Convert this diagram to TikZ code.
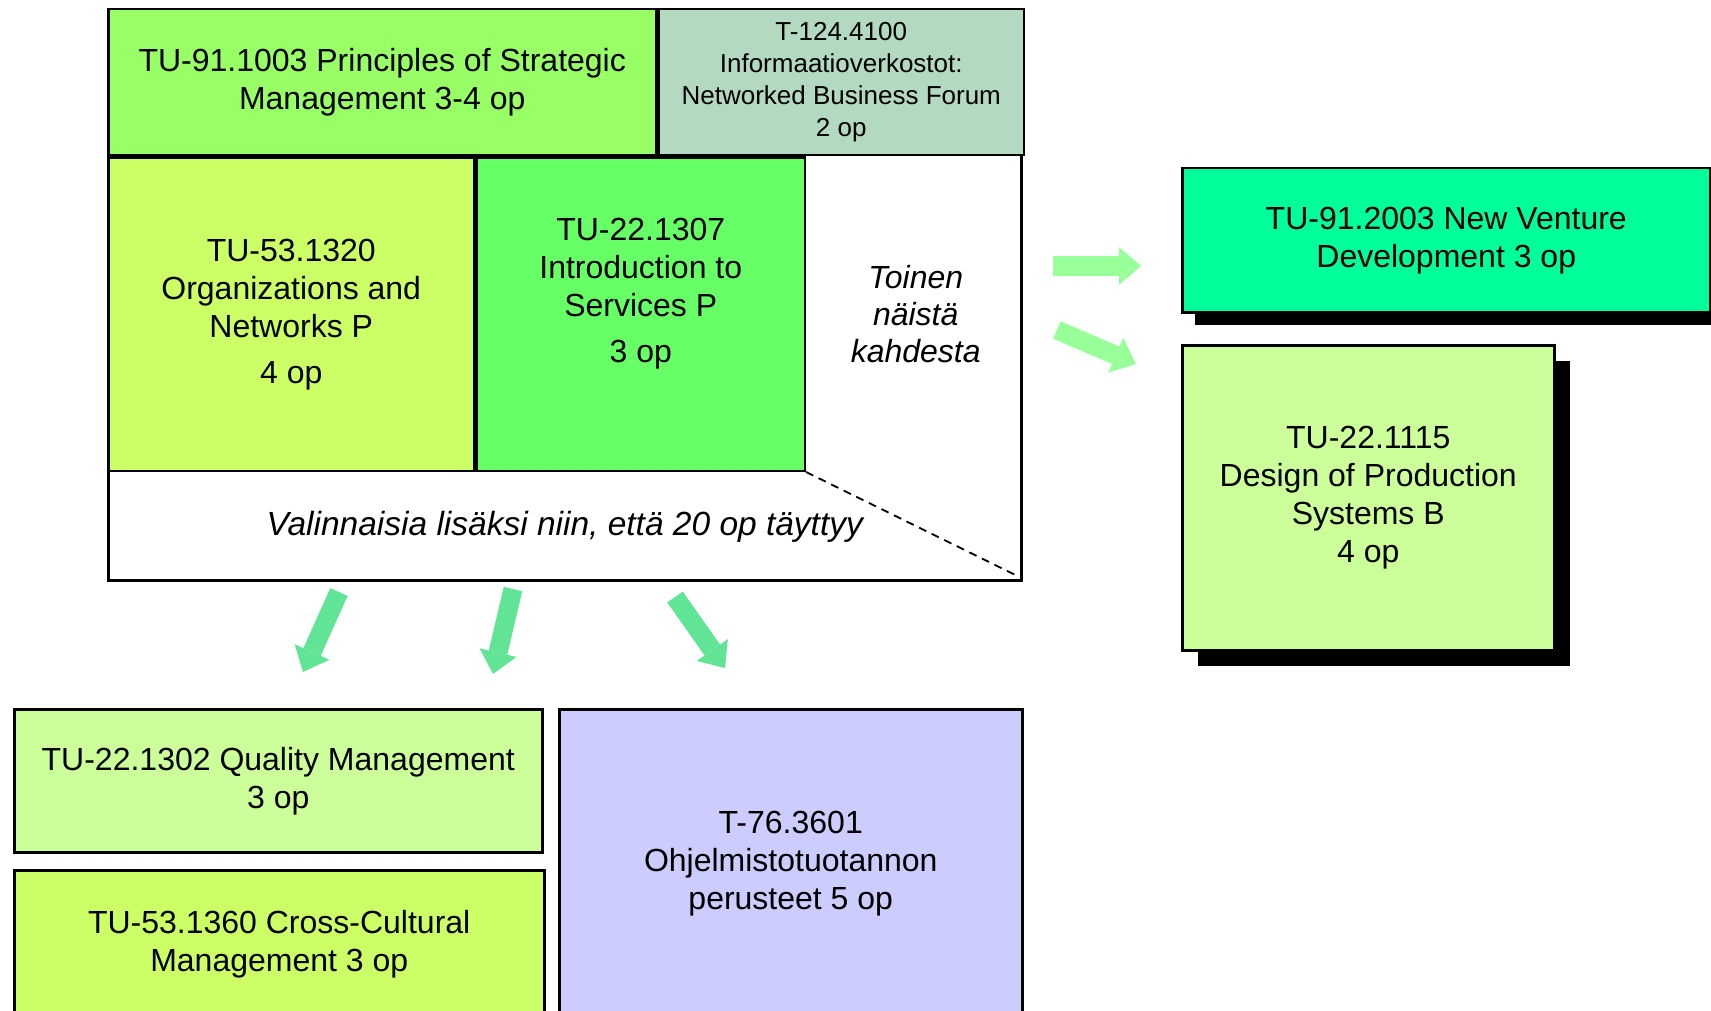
\documentclass[tikz,border=0pt]{standalone}
\usepackage{fontspec}
\setmainfont{Liberation Sans}
\usetikzlibrary{calc}
\usetikzlibrary{positioning}
\usetikzlibrary{arrows.meta,shadows}

\definecolor{stratgreen}{HTML}{99FF66}
\definecolor{forumgray}{HTML}{B3D9C0}
\definecolor{orgyellow}{HTML}{CCFF66}
\definecolor{introgreen}{HTML}{66FF66}
\definecolor{venturegreen}{HTML}{00FF99}
\definecolor{palegreen}{HTML}{CCFF99}
\definecolor{lilac}{HTML}{CCCCFF}
\definecolor{downgreen}{HTML}{62E496}
\definecolor{rightgreen}{HTML}{99FF99}

\begin{document}
\begin{tikzpicture}[x=1pt, y=-1pt,
  cell/.style={draw, line width=2.5pt, inner sep=0pt, align=center, anchor=north west,
    font=\fontsize{32}{38}\selectfont},
  txt/.style={inner sep=0pt, align=center, font=\fontsize{32}{38}\selectfont},
  boxshadow/.style={drop shadow={shadow xshift=#1, shadow yshift=-#1, fill=black, opacity=1}},
  bigarrow/.style={line width=19pt, draw=#1,
    -{Triangle[length=22pt, width=38pt, line width=0pt]}}]
  \useasboundingbox (0,0) rectangle (1711,1011);

  % frame of the compulsory part
  \node [cell, minimum width=913pt, minimum height=571.4pt] (outer) at (107,7.6) {};
  \node [cell, fill=stratgreen, minimum width=548pt, minimum height=146.4pt] (strat)
    at (outer.north west) {TU-91.1003 Principles of Strategic\\Management 3-4 op};
  \node [cell, fill=forumgray, minimum width=365pt, minimum height=146.4pt,
    right=0pt of strat, font=\fontsize{26}{32}\selectfont] (forum)
    {T-124.4100\\Informaatioverkostot:\\Networked Business Forum\\2 op};

  \node [cell, fill=orgyellow, minimum width=366pt, minimum height=313pt] (org)
    at (strat.south west) {TU-53.1320\\Organizations and\\Networks P\\[8pt]4 op};
  \node [cell, fill=introgreen, minimum width=328pt, minimum height=313pt,
    right=0pt of org] (intro) {};
  \node [txt] (introtext) at ([yshift=21pt]intro.center)
    {TU-22.1307\\Introduction to\\Services P\\[8pt]3 op};
  \node [txt, minimum width=219pt, minimum height=313pt, right=0pt of intro,
    font=\fontsize{32}{37}\selectfont\itshape] (either) {Toinen\\näistä\\kahdesta};

  \node [txt, font=\fontsize{33.5}{38}\selectfont\itshape] (extra)
    at ($(org.south west)!0.5!(outer.south east)$)
    {Valinnaisia lisäksi niin, että 20 op täyttyy};
  \draw [line width=1.8pt, dash pattern=on 8pt off 6pt]
    (intro.south east) -- ($(outer.south east)+(-6,-6)$);

  % optional courses on the right
  \node [cell, fill=venturegreen, boxshadow=13pt, minimum width=528pt, minimum height=144pt]
    (venture) at (1181,167) {TU-91.2003 New Venture\\Development 3 op};
  \node [cell, fill=palegreen, boxshadow=16pt, minimum width=372pt, minimum height=305pt]
    (design) at (1181,344) {TU-22.1115\\Design of Production\\Systems B\\4 op};

  % optional courses below
  \node [cell, fill=palegreen, minimum width=528pt, minimum height=143pt] (quality)
    at (13,708) {TU-22.1302 Quality Management\\3 op};
  \node [cell, fill=orgyellow, minimum width=530pt, minimum height=148pt] (cross)
    at (13,869) {TU-53.1360 Cross-Cultural\\Management 3 op};
  \node [cell, fill=lilac, minimum width=463pt, minimum height=308pt] (software)
    at (558,708) {T-76.3601\\Ohjelmistotuotannon\\perusteet 5 op};

  % arrows
  \coordinate (d1) at (339,592); \coordinate (d1e) at (303,672);
  \coordinate (d2) at (513,589); \coordinate (d2e) at (493,674);
  \coordinate (d3) at (675,597); \coordinate (d3e) at (725,668);
  \coordinate (r1) at (1053,266); \coordinate (r1e) at (1141,266);
  \coordinate (r2) at (1057,330); \coordinate (r2e) at (1136,364);
  \draw [bigarrow=downgreen] (d1) -- (d1e);
  \draw [bigarrow=downgreen] (d2) -- (d2e);
  \draw [bigarrow=downgreen] (d3) -- (d3e);
  \draw [bigarrow=rightgreen] (r1) -- (r1e);
  \draw [bigarrow=rightgreen] (r2) -- (r2e);
\end{tikzpicture}
\end{document}
